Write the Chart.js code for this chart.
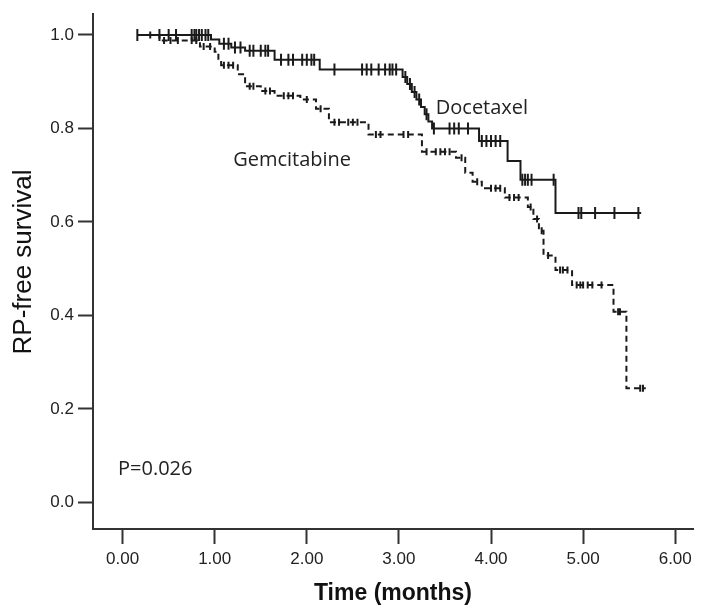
<!DOCTYPE html>
<html>
<head>
<meta charset="utf-8">
<script src="https://cdn.jsdelivr.net/npm/chart.js@4.4.0/dist/chart.umd.min.js"></script>
<style>
    html, body {
        margin: 0;
        padding: 0;
        background: #fff;
        overflow: hidden;
    }

    .chart-container {
        position: relative;
        width: 701px;
        height: 610px;
    }
</style>
</head>
<body>
<div class="chart-container">
    <canvas id="km_chart"></canvas>
</div>
<script>
    // Kaplan-Meier steps: time (months) and survival after the step
    const doc_times = [0.16, 0.96, 1.05, 1.18, 1.33, 1.65, 2.14, 3.04, 3.09, 3.14, 3.19, 3.24, 3.28, 3.32, 3.36, 3.87, 4.18, 4.32, 4.70, 5.63]
    const doc_surv  = [1.000, 0.990, 0.981, 0.973, 0.966, 0.947, 0.926, 0.910, 0.895, 0.878, 0.862, 0.846, 0.830, 0.815, 0.800, 0.773, 0.730, 0.690, 0.619, 0.619]
    const doc_censor = [0.16, 0.40, 0.50, 0.58, 0.75, 0.78, 0.80, 0.83, 0.86, 0.90, 0.93, 1.10, 1.15, 1.22, 1.28, 1.38, 1.42, 1.50, 1.55, 1.58,
        1.72, 1.80, 1.85, 1.95, 2.00, 2.05, 2.08, 2.30, 2.60, 2.65, 2.70, 2.78, 2.85, 2.90, 2.93, 2.97, 3.07, 3.12, 3.17, 3.22, 3.30,
        3.38, 3.55, 3.60, 3.65, 3.75, 3.90, 3.95, 4.00, 4.05, 4.10, 4.34, 4.37, 4.40, 4.44, 4.68, 4.95, 4.98, 5.13, 5.34, 5.60]

    const gem_times = [0.16, 0.40, 0.84, 1.00, 1.04, 1.07, 1.25, 1.33, 1.50, 1.65, 1.93, 2.10, 2.24, 2.67, 3.25, 3.62, 3.72, 3.80, 3.90, 4.15,
        4.40, 4.46, 4.52, 4.57, 4.70, 4.88, 5.33, 5.47, 5.68]
    const gem_surv  = [1.000, 0.988, 0.975, 0.964, 0.945, 0.935, 0.916, 0.890, 0.880, 0.870, 0.862, 0.842, 0.813, 0.787, 0.750, 0.737, 0.705, 0.686, 0.672, 0.652,
        0.632, 0.606, 0.581, 0.528, 0.497, 0.465, 0.408, 0.244, 0.244]
    const gem_censor = [0.30, 0.45, 0.52, 0.60, 0.75, 0.80, 0.88, 0.95, 1.10, 1.15, 1.20, 1.38, 1.42, 1.55, 1.60, 1.75, 1.80, 1.85, 2.00, 2.15,
        2.30, 2.35, 2.45, 2.50, 2.55, 2.75, 2.80, 3.05, 3.10, 3.30, 3.40, 3.45, 3.50, 3.55, 3.68, 3.85, 4.00, 4.05, 4.10, 4.20, 4.25,
        4.30, 4.43, 4.50, 4.55, 4.62, 4.75, 4.78, 4.83, 4.93, 4.97, 5.00, 5.05, 5.10, 5.20, 5.38, 5.40, 5.62, 5.65]

    const x_ticks = [0, 1, 2, 3, 4, 5, 6]
    const x_tick_labels = ["0.00", "1.00", "2.00", "3.00", "4.00", "5.00", "6.00"]
    const y_ticks = [0, 0.2, 0.4, 0.6, 0.8, 1.0]
    const y_tick_labels = ["0.0", "0.2", "0.4", "0.6", "0.8", "1.0"]

    const notes = [
        {text: "Docetaxel", x: 3.40, y: 0.842},
        {text: "Gemcitabine", x: 1.20, y: 0.732},
        {text: "P=0.026", x: -0.05, y: 0.070}
    ]
    const y_title = "RP-free survival"

    const toPoints = (times, surv) => times.map((t, i) => ({x: t, y: surv[i]}))
    const survAt = (times, surv, t) => {
        let s = surv[0]
        times.forEach((tt, i) => { if (tt <= t + 1e-9) s = surv[i] })
        return s
    }
    const censorPoints = (cens, times, surv) => cens.map(t => ({x: t, y: survAt(times, surv, t)}))

    const ink = "#1a1a1a"
    const axis_color = "#333"

    const notesPlugin = {
        id: "notes",
        afterDatasetsDraw(chart) {
            const {ctx, scales: {x, y}} = chart
            ctx.save()
            ctx.font = '20px "Open Sans"'
            ctx.fillStyle = "#222"
            ctx.textBaseline = "middle"
            ctx.textAlign = "left"
            notes.forEach(n => ctx.fillText(n.text, x.getPixelForValue(n.x), y.getPixelForValue(n.y)))
            // y axis title, a bit above the axis centre as in the original
            ctx.translate(24, 262)
            ctx.rotate(-Math.PI / 2)
            ctx.textAlign = "center"
            ctx.font = '26px "Liberation Sans"'
            ctx.fillStyle = "#111"
            ctx.fillText(y_title, 0, 0)
            ctx.restore()
        }
    }

    new Chart(document.getElementById("km_chart").getContext("2d"), {
        type: "line",
        data: {
            datasets: [
                {
                    label: "Docetaxel",
                    data: toPoints(doc_times, doc_surv),
                    stepped: true,
                    borderColor: ink,
                    borderWidth: 2,
                    pointRadius: 0,
                    fill: false
                },
                {
                    label: "Gemcitabine",
                    data: toPoints(gem_times, gem_surv),
                    stepped: true,
                    borderColor: ink,
                    borderWidth: 2,
                    borderDash: [6, 4],
                    pointRadius: 0,
                    fill: false
                },
                {
                    type: "scatter",
                    label: "Docetaxel censored",
                    data: censorPoints(doc_censor, doc_times, doc_surv),
                    pointStyle: "line",
                    rotation: 90,
                    radius: 6,
                    borderWidth: 2,
                    borderColor: ink
                },
                {
                    type: "scatter",
                    label: "Gemcitabine censored",
                    data: censorPoints(gem_censor, gem_times, gem_surv),
                    pointStyle: "line",
                    rotation: 90,
                    radius: 3.5,
                    borderWidth: 2,
                    borderColor: ink
                }
            ]
        },
        options: {
            responsive: true,
            maintainAspectRatio: false,
            animation: false,
            layout: {padding: {top: 7, right: 0, left: 0, bottom: 0}},
            plugins: {
                legend: {display: false},
                tooltip: {enabled: false}
            },
            scales: {
                x: {
                    type: "linear",
                    min: -0.3214,
                    max: 6.193,
                    afterBuildTicks: (axis) => { axis.ticks = x_ticks.map(v => ({value: v})) },
                    afterFit: (axis) => { axis.height = 81 },
                    ticks: {
                        callback: (v) => x_tick_labels[x_ticks.indexOf(v)],
                        color: "#222",
                        font: {family: "Liberation Sans", size: 17},
                        padding: 5,
                        maxRotation: 0
                    },
                    grid: {drawOnChartArea: false, tickLength: 15, tickWidth: 2, tickColor: axis_color},
                    border: {color: axis_color, width: 2},
                    title: {
                        display: true,
                        text: "Time (months)",
                        color: "#111",
                        font: {family: "Liberation Sans", size: 23, weight: "bold"},
                        padding: {top: 0, bottom: 3}
                    }
                },
                y: {
                    type: "linear",
                    min: -0.057,
                    max: 1.0443,
                    afterBuildTicks: (axis) => { axis.ticks = y_ticks.map(v => ({value: v})) },
                    afterFit: (axis) => { axis.width = 93 },
                    ticks: {
                        callback: (v) => y_tick_labels[y_ticks.indexOf(v)],
                        color: "#222",
                        font: {family: "Liberation Sans", size: 17},
                        padding: 4
                    },
                    grid: {drawOnChartArea: false, tickLength: 15, tickWidth: 2, tickColor: axis_color},
                    border: {color: axis_color, width: 2}
                }
            }
        },
        plugins: [notesPlugin]
    })
</script>
</body>
</html>
